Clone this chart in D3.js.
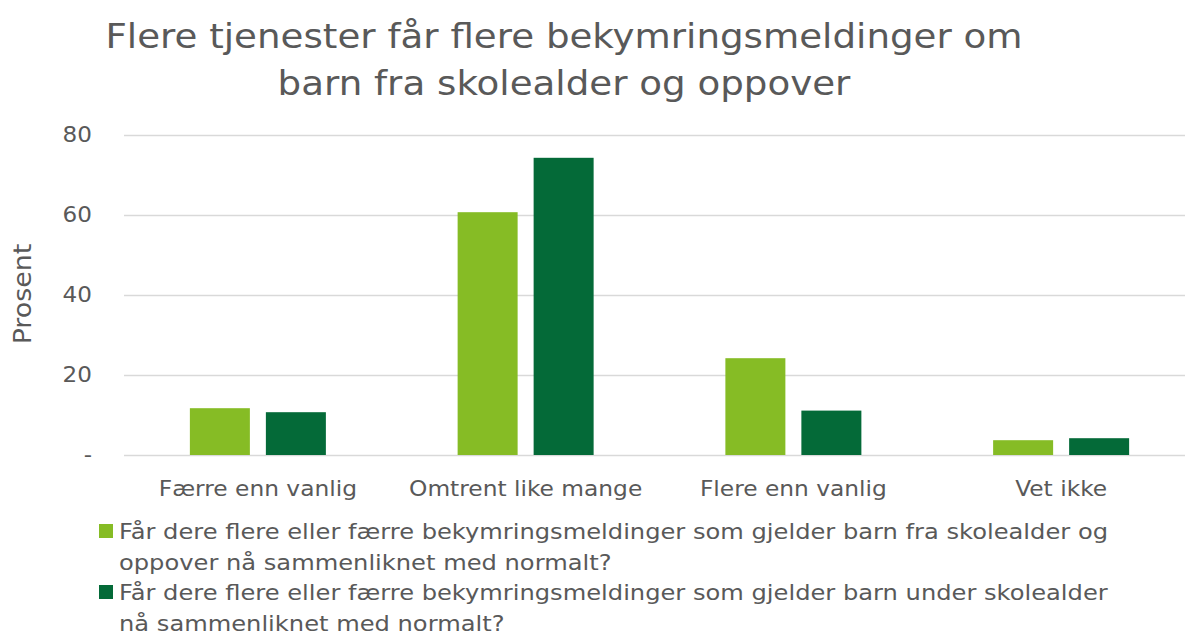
<!DOCTYPE html>
<html>
<head>
<meta charset="utf-8">
<script src="https://cdn.jsdelivr.net/npm/d3@7"></script>
<style>
  body { margin: 0; background: #fff; }
  svg text { font-family: "DejaVu Sans", Verdana, sans-serif; fill: #595959; }
</style>
</head>
<body>
<svg id="chart" width="1185" height="635"></svg>
<script>
// DATA
var categories = ["Færre enn vanlig", "Omtrent like mange", "Flere enn vanlig", "Vet ikke"];
var skolealder = [11.7, 60.7, 24.2, 3.7];
var underSkolealder = [10.7, 74.3, 11.1, 4.2];
var seriesNames = [
    "Får dere flere eller færre bekymringsmeldinger som gjelder barn fra skolealder og oppover nå sammenliknet med normalt?",
    "Får dere flere eller færre bekymringsmeldinger som gjelder barn under skolealder nå sammenliknet med normalt?"
];
var seriesColors = ["#86bc25", "#046a38"];
var yTicks = [0, 20, 40, 60, 80];
var titleLines = ["Flere tjenester får flere bekymringsmeldinger om", "barn fra skolealder og oppover"];

var svg = d3.select("#chart");

// the original font is wider than DejaVu, stretch text a bit
function stretch(sel, f) {
    sel.each(function() {
        var w = this.getComputedTextLength();
        d3.select(this).attr("textLength", w * f).attr("lengthAdjust", "spacingAndGlyphs");
    });
}

// SCALES
var x0 = d3.scaleBand().domain(categories).range([124, 1195]).padding(0);
var x1 = d3.scaleBand().domain([0, 1])
    .range([(x0.bandwidth() - 136) / 2, (x0.bandwidth() + 136) / 2])
    .paddingInner(16 / 76);
var y = d3.scaleLinear().domain([0, 80]).range([455, 135]);

// TITLE
svg.append("g").selectAll("text")
    .data(titleLines)
    .enter().append("text")
    .attr("x", 564)
    .attr("y", function(d, i) { return 48 + i * 47; })
    .attr("text-anchor", "middle")
    .style("font-size", "33px")
    .text(function(d) { return d; })
    .call(stretch, 1.127);

// GRID + Y AXIS
var yAxis = d3.axisLeft(y).tickValues(yTicks)
    .tickSize(-(1185 - 124))
    .tickFormat(function(d) { return d === 0 ? "-" : d; });
var gy = svg.append("g").attr("transform", "translate(124,0)").call(yAxis);
gy.select(".domain").remove();
gy.selectAll(".tick line").attr("stroke", "#d9d9d9").attr("stroke-width", 1.5);
gy.selectAll(".tick text")
    .attr("x", -32)
    .style("font-size", "21px")
    .style("fill", "#595959")
    .call(stretch, 1.1);

// Y TITLE
svg.append("text")
    .attr("transform", "translate(31,294) rotate(-90)")
    .attr("text-anchor", "middle")
    .style("font-size", "24px")
    .text("Prosent")
    .call(stretch, 1.12);

// BARS
var rows = categories.map(function(c, i) {
    return { cat: c, vals: [skolealder[i], underSkolealder[i]] };
});
var groups = svg.append("g").selectAll("g")
    .data(rows)
    .enter().append("g")
    .attr("transform", function(d) { return "translate(" + x0(d.cat) + ",0)"; });
groups.selectAll("rect")
    .data(function(d) { return d.vals; })
    .enter().append("rect")
    .attr("x", function(d, i) { return x1(i); })
    .attr("width", x1.bandwidth())
    .attr("y", function(d) { return y(d); })
    .attr("height", function(d) { return y(0) - y(d); })
    .attr("fill", function(d, i) { return seriesColors[i]; });

// X LABELS
var xAxis = d3.axisBottom(x0).tickSize(0).tickPadding(0);
var gx = svg.append("g").attr("transform", "translate(0,455)").call(xAxis);
gx.select(".domain").remove();
gx.selectAll(".tick text")
    .attr("y", 41)
    .attr("dy", 0)
    .style("font-size", "21px")
    .style("fill", "#595959")
    .call(stretch, 1.11);

// LEGEND
var legFactor = 1.098;
function wrapWords(text, maxW, fontSize) {
    var tmp = svg.append("text").style("font-size", fontSize + "px");
    var words = text.split(" "), lines = [], line = [];
    words.forEach(function(w) {
        line.push(w);
        tmp.text(line.join(" "));
        if (tmp.node().getComputedTextLength() * legFactor > maxW && line.length > 1) {
            line.pop();
            lines.push(line.join(" "));
            line = [w];
        }
    });
    lines.push(line.join(" "));
    tmp.remove();
    return lines;
}

var legend = svg.append("g");
var lineY = 539;
seriesNames.forEach(function(name, i) {
    legend.append("rect")
        .attr("x", 99).attr("y", lineY - 15)
        .attr("width", 14).attr("height", 14)
        .attr("fill", seriesColors[i]);
    var lines = wrapWords(name, 995, 22);
    lines.forEach(function(l, j) {
        legend.append("text")
            .attr("x", 119)
            .attr("y", lineY + j * 30.5)
            .style("font-size", "22px")
            .text(l)
            .call(stretch, legFactor);
    });
    lineY += lines.length * 30.5;
});
</script>
</body>
</html>
